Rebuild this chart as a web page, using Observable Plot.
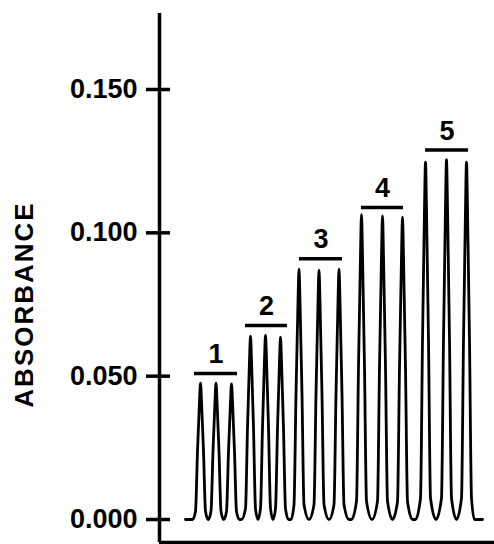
<!DOCTYPE html>
<html>
<head>
<meta charset="utf-8">
<script src="https://cdn.jsdelivr.net/npm/d3@7"></script>
<script src="https://cdn.jsdelivr.net/npm/@observablehq/plot@0.6"></script>
<style>
  html, body { margin: 0; padding: 0; background: #fff; }
  #chart svg { display: block; }
  .ylab text { letter-spacing: 2px; }
</style>
</head>
<body>
<div id="chart"></div>
<script>
// Y axis ticks
const yTicks = [0, 0.05, 0.1, 0.15];
const yLabel = "ABSORBANCE";

// Injection groups (labels, bar levels and extents in time units)
const groupLabels = ["1", "2", "3", "4", "5"];
const barLevel = [0.0509, 0.0677, 0.0910, 0.1088, 0.1289];
const barStart = [35, 86, 140, 202, 266];
const barEnd = [78, 128, 183, 244, 309];

// Detector trace (time, absorbance)
const traceTime = [
  26, 33,
  36, 38, 40, 41, 42, 44, 46, 48.75,
  51.5, 53.5, 55.5, 56.5, 57.5, 59.5, 61.5, 64.25,
  67, 69, 71, 72, 73, 75, 77, 80, 82,
  86, 88, 90, 91, 92, 94, 96, 98.5,
  101, 103, 105, 106, 107, 109, 111, 113.5,
  116, 118, 120, 121, 122, 124, 126, 129, 131.5,
  134.5, 136.5, 138.5, 139.5, 140.5, 142.5, 144.5, 149.5,
  154.5, 156.5, 158.5, 159.5, 160.5, 162.5, 164.5, 169.5,
  174.5, 176.5, 178.5, 179.5, 180.5, 182.5, 184.5, 189.5, 192,
  197, 199, 201, 202, 203, 205, 207, 212.5,
  218, 220, 222, 223, 224, 226, 228, 233,
  238, 240, 242, 243, 244, 246, 248, 253, 256,
  261, 263, 265, 266, 267, 269, 271, 276.5,
  282, 284, 286, 287, 288, 290, 292, 297,
  302, 304, 306, 307, 308, 310, 312, 315, 323
];
const traceAbs = [
  0, 0,
  0.0029, 0.0238, 0.0414, 0.0476, 0.0414, 0.0238, 0.0029, 0,
  0.0029, 0.0238, 0.0414, 0.0476, 0.0414, 0.0238, 0.0029, 0,
  0.0028, 0.0237, 0.0412, 0.0473, 0.0412, 0.0237, 0.0028, 0, 0,
  0.0038, 0.0320, 0.0557, 0.0640, 0.0557, 0.0320, 0.0038, 0,
  0.0039, 0.0322, 0.0559, 0.0643, 0.0559, 0.0322, 0.0039, 0,
  0.0038, 0.0318, 0.0553, 0.0636, 0.0553, 0.0318, 0.0038, 0, 0,
  0.0052, 0.0437, 0.0760, 0.0873, 0.0760, 0.0437, 0.0052, 0,
  0.0052, 0.0435, 0.0757, 0.0870, 0.0757, 0.0435, 0.0052, 0,
  0.0052, 0.0437, 0.0760, 0.0873, 0.0760, 0.0437, 0.0052, 0, 0,
  0.0064, 0.0532, 0.0925, 0.1063, 0.0925, 0.0532, 0.0064, 0,
  0.0064, 0.0530, 0.0921, 0.1059, 0.0921, 0.0530, 0.0064, 0,
  0.0063, 0.0528, 0.0918, 0.1055, 0.0918, 0.0528, 0.0063, 0, 0,
  0.0075, 0.0624, 0.1085, 0.1247, 0.1085, 0.0624, 0.0075, 0,
  0.0075, 0.0628, 0.1092, 0.1255, 0.1092, 0.0628, 0.0075, 0,
  0.0075, 0.0624, 0.1085, 0.1247, 0.1085, 0.0624, 0.0075, 0, 0
];

const trace = traceTime.map((t, i) => ({t, a: traceAbs[i]}));
const groups = groupLabels.map((label, i) => ({
  label, level: barLevel[i], x1: barStart[i], x2: barEnd[i], xc: (barStart[i] + barEnd[i]) / 2
}));

const yDomain = [-0.00802, 0.17651];
const font = "'Liberation Sans', Arial, Helvetica, sans-serif";

const chart = Plot.plot({
  width: 494,
  height: 544,
  marginLeft: 159,
  marginRight: 0,
  marginTop: 13,
  marginBottom: 2,
  x: {domain: [0, 335], axis: null},
  y: {domain: yDomain, axis: null},
  style: {fontFamily: font, color: "#000", background: "#fff", overflow: "visible"},
  marks: [
    // axis lines
    Plot.ruleX([0], {stroke: "#000", strokeWidth: 3.5}),
    Plot.ruleY([yDomain[0]], {stroke: "#000", strokeWidth: 3.5}),
    // tick marks crossing the axis
    Plot.ruleY(yTicks, {y: d => d, x1: -13, x2: 11, stroke: "#000", strokeWidth: 3.5}),
    // tick labels
    Plot.axisY({
      ticks: yTicks, tickSize: 0, tickPadding: 22, tickFormat: d3.format(".3f"),
      fontSize: 27, fontWeight: "bold", label: null, anchor: "left"
    }),
    // axis title
    Plot.text([yLabel], {
      text: d => d, frameAnchor: "left", dx: -135, textAnchor: "middle",
      y: (yTicks[0] + yTicks[yTicks.length - 1]) / 2,
      rotate: -90, fontSize: 26, fontWeight: "bold", fill: "#000", className: "ylab"
    }),
    // trace
    Plot.line(trace, {x: "t", y: "a", curve: "monotone-x", stroke: "#000", strokeWidth: 2.8}),
    // group bars and labels
    Plot.ruleY(groups, {y: "level", x1: "x1", x2: "x2", stroke: "#000", strokeWidth: 3.5}),
    Plot.text(groups, {x: "xc", y: "level", text: "label", dy: -19, fontSize: 27, fontWeight: "bold", fill: "#000"})
  ]
});

document.getElementById("chart").append(chart);
</script>
</body>
</html>
